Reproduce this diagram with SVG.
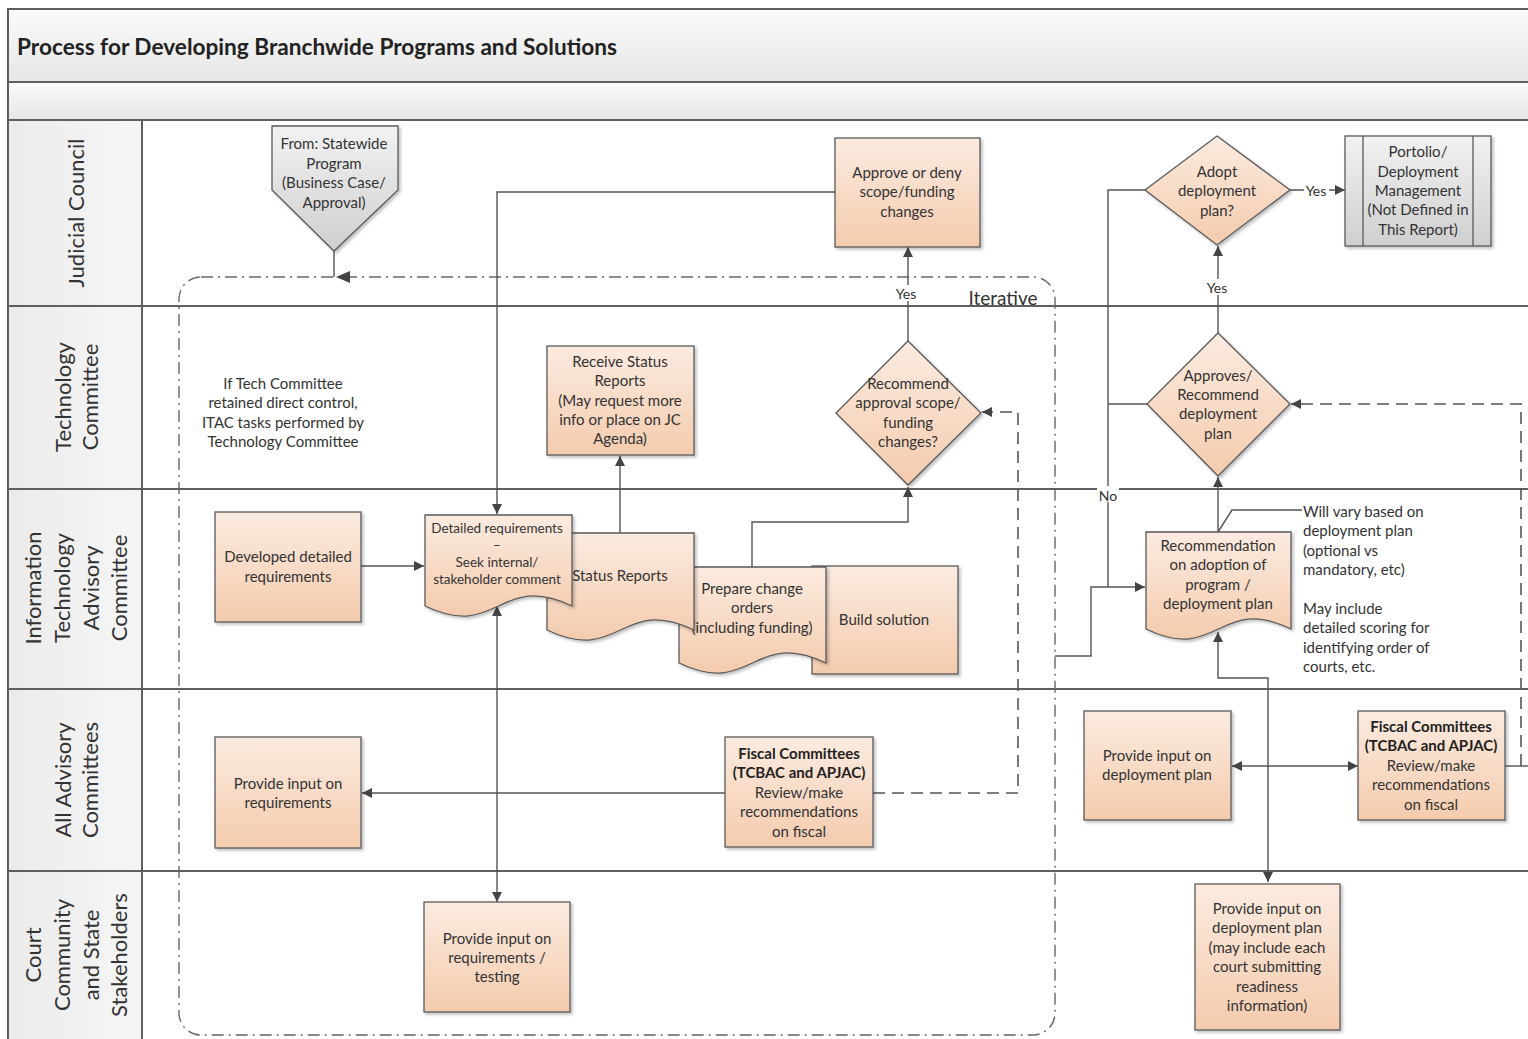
<svg xmlns="http://www.w3.org/2000/svg" width="1528" height="1039" viewBox="0 0 1528 1039">
<style>
.t{font-family:Lato,"Liberation Sans",sans-serif;font-size:15px;fill:#333;text-anchor:middle;dominant-baseline:central}
.s{font-size:13.5px}
.b{font-weight:bold;fill:#222}
.l{text-anchor:start}
.lane{font-family:Lato,"Liberation Sans",sans-serif;font-size:22px;fill:#333;text-anchor:middle;dominant-baseline:central}
.node{fill:url(#nf);stroke:#5a5a5a;stroke-width:1.3;filter:url(#sh)}
.gray{fill:url(#gf);stroke:#5a5a5a;stroke-width:1.3;filter:url(#sh)}
.c{fill:none;stroke:#555;stroke-width:1.4}
.d{fill:none;stroke:#555;stroke-width:1.6;stroke-dasharray:12 7}
.frame{fill:none;stroke:#5f5f5f;stroke-width:2}
.lbl{fill:#fff}
</style>
<defs>
<linearGradient id="nf" x1="0" y1="0" x2="0" y2="1"><stop offset="0" stop-color="#fbebe0"/><stop offset="1" stop-color="#f4cbad"/></linearGradient>
<linearGradient id="gf" x1="0" y1="0" x2="0" y2="1"><stop offset="0" stop-color="#f2f2f2"/><stop offset="1" stop-color="#cfcfcf"/></linearGradient>
<linearGradient id="hf" x1="0" y1="0" x2="0" y2="1"><stop offset="0" stop-color="#fbfbfb"/><stop offset="1" stop-color="#e6e6e6"/></linearGradient>
<linearGradient id="lf" x1="0" y1="0" x2="1" y2="0"><stop offset="0" stop-color="#ebebeb"/><stop offset="1" stop-color="#f6f6f6"/></linearGradient>
<filter id="sh" x="-10%" y="-10%" width="130%" height="130%"><feDropShadow dx="2" dy="2" stdDeviation="1.5" flood-color="#000" flood-opacity="0.25"/></filter>
<marker id="a" viewBox="0 0 10 10" refX="10" refY="5" markerWidth="12" markerHeight="10" markerUnits="userSpaceOnUse" orient="auto-start-reverse"><path d="M0,0 L10,5 L0,10 Z" fill="#444"/></marker>
</defs>

<!-- swimlane frame -->
<g id="frame">
<rect x="8" y="9" width="1530" height="73" fill="url(#hf)"/>
<rect x="8" y="82" width="1530" height="38" fill="url(#hf)"/>
<rect x="8" y="120" width="134" height="919" fill="url(#lf)"/>
<path class="frame" d="M1528,9 H8 V1039 M8,82 H1528 M8,120 H1528 M8,306 H1528 M8,489 H1528 M8,689 H1528 M8,871 H1528 M142,120 V1039"/>
<text x="17" y="46" class="t b l" style="font-size:22px" textLength="600" lengthAdjust="spacingAndGlyphs">Process for Developing Branchwide Programs and Solutions</text>
<text class="lane" transform="translate(75,213) rotate(-90)">Judicial Council</text>
<text class="lane" transform="translate(62,397) rotate(-90)">Technology</text>
<text class="lane" transform="translate(89,397) rotate(-90)">Committee</text>
<text class="lane" transform="translate(32,588) rotate(-90)">Information</text>
<text class="lane" transform="translate(61,588) rotate(-90)">Technology</text>
<text class="lane" transform="translate(90,588) rotate(-90)">Advisory</text>
<text class="lane" transform="translate(118,588) rotate(-90)">Committee</text>
<text class="lane" transform="translate(62,780) rotate(-90)">All Advisory</text>
<text class="lane" transform="translate(89,780) rotate(-90)">Committees</text>
<text class="lane" transform="translate(32,955) rotate(-90)">Court</text>
<text class="lane" transform="translate(61,955) rotate(-90)">Community</text>
<text class="lane" transform="translate(90,955) rotate(-90)">and State</text>
<text class="lane" transform="translate(118,955) rotate(-90)">Stakeholders</text>
</g>

<!-- iterative container -->
<g id="iterative">
<rect x="179" y="277" width="876" height="758" rx="22" fill="none" stroke="#666" stroke-width="1.4" stroke-dasharray="12 5 2 5"/>
<text x="1003" y="297" class="t" style="font-size:19px">Iterative</text>
</g>

<!-- connectors -->
<g id="connectors">
<path class="c" d="M334,251 V277"/>
<path d="M336,277 L350,271 L350,283 Z" fill="#444"/>
<path class="c" d="M835,192 H497 V514" marker-end="url(#a)"/>
<path class="c" d="M361,566 H424" marker-end="url(#a)"/>
<path class="c" d="M497,606 V902" marker-start="url(#a)" marker-end="url(#a)"/>
<path class="c" d="M620,533 V456" marker-end="url(#a)"/>
<path class="c" d="M752,567 V522 H908 V487" marker-end="url(#a)"/>
<path class="c" d="M908,341 V247" marker-end="url(#a)"/>
<path class="c" d="M725,793 H362" marker-end="url(#a)"/>
<path class="d" d="M873,793 H1018 V412 H982" marker-end="url(#a)"/>
<path class="c" d="M1055,656 H1091 V587 H1145" marker-end="url(#a)"/>
<path class="c" d="M1146,190 H1108 V587 M1147,404 H1108"/>
<path class="c" d="M1218,532 V477" marker-end="url(#a)"/>
<path class="c" d="M1218,333 V246" marker-end="url(#a)"/>
<path class="c" d="M1290,190 H1345" marker-end="url(#a)"/>
<path class="c" d="M1218,632 V678 H1268 V882" marker-start="url(#a)" marker-end="url(#a)"/>
<path class="c" d="M1232,766 H1358" marker-start="url(#a)" marker-end="url(#a)"/>
<path class="c" d="M1505,766 H1528"/>
<path class="d" d="M1521,766 V404 H1291" marker-end="url(#a)"/>
<path class="c" d="M1218,532 L1232,510 H1302"/>
<rect class="lbl" x="893" y="285" width="27" height="16"/>
<text x="906" y="293" class="t" style="font-size:14px">Yes</text>
<rect class="lbl" x="1204" y="279" width="27" height="16"/>
<text x="1217" y="287" class="t" style="font-size:14px">Yes</text>
<rect class="lbl" x="1304" y="182" width="25" height="16"/>
<text x="1316" y="190" class="t" style="font-size:14px">Yes</text>
<rect class="lbl" x="1097" y="486" width="22" height="16"/>
<text x="1108" y="495" class="t" style="font-size:14px">No</text>
</g>

<!-- nodes -->
<g id="from-statewide">
<path class="gray" d="M272,126 H398 V190 L334,251 L272,190 Z"/>
<text class="t" x="334" y="143">From: Statewide</text>
<text class="t" x="334" y="163">Program</text>
<text class="t" x="334" y="182">(Business Case/</text>
<text class="t" x="334" y="202">Approval)</text>
</g>

<g id="approve-deny">
<rect class="node" x="835" y="138" width="145" height="109"/>
<text class="t" x="907" y="172">Approve or deny</text>
<text class="t" x="907" y="191">scope/funding</text>
<text class="t" x="907" y="211">changes</text>
</g>

<g id="adopt">
<path class="node" d="M1217,136 L1290,190 L1217,245 L1145,190 Z"/>
<text class="t" x="1217" y="171">Adopt</text>
<text class="t" x="1217" y="190">deployment</text>
<text class="t" x="1217" y="210">plan?</text>
</g>

<g id="portfolio">
<rect class="gray" x="1345" y="136" width="146" height="110"/>
<path d="M1363,136 V246 M1473,136 V246" stroke="#5a5a5a" stroke-width="1.3"/>
<text class="t" x="1418" y="151">Portolio/</text>
<text class="t" x="1418" y="171">Deployment</text>
<text class="t" x="1418" y="190">Management</text>
<text class="t" x="1418" y="209">(Not Defined in</text>
<text class="t" x="1418" y="229">This Report)</text>
</g>

<g id="tech-note">
<text class="t" x="283" y="383">If Tech Committee</text>
<text class="t" x="283" y="402">retained direct control,</text>
<text class="t" x="283" y="422">ITAC tasks performed by</text>
<text class="t" x="283" y="441">Technology Committee</text>
</g>

<g id="receive-status">
<rect class="node" x="547" y="346" width="147" height="109"/>
<text class="t" x="620" y="361">Receive Status</text>
<text class="t" x="620" y="380">Reports</text>
<text class="t" x="620" y="400">(May request more</text>
<text class="t" x="620" y="419">info or place on JC</text>
<text class="t" x="620" y="438">Agenda)</text>
</g>

<g id="recommend-approval">
<path class="node" d="M908,341 L981,413 L908,485 L836,413 Z"/>
<text class="t" x="908" y="383">Recommend</text>
<text class="t" x="908" y="402">approval scope/</text>
<text class="t" x="908" y="422">funding</text>
<text class="t" x="908" y="441">changes?</text>
</g>

<g id="approves-recommend">
<path class="node" d="M1218,333 L1290,404 L1218,476 L1147,404 Z"/>
<text class="t" x="1218" y="375">Approves/</text>
<text class="t" x="1218" y="394">Recommend</text>
<text class="t" x="1218" y="413">deployment</text>
<text class="t" x="1218" y="433">plan</text>
</g>

<g id="developed">
<rect class="node" x="215" y="512" width="146" height="110"/>
<text class="t" x="288" y="556">Developed detailed</text>
<text class="t" x="288" y="576">requirements</text>
</g>

<g id="build-solution">
<rect class="node" x="812" y="566" width="146" height="108"/>
<text class="t" x="884" y="619">Build solution</text>
</g>

<g id="prepare-change">
<path class="node" d="M679,567 H826 V663 C752.5,628 752.5,698 679,663 Z"/>
<text class="t" x="752" y="588">Prepare change</text>
<text class="t" x="752" y="607">orders</text>
<text class="t" x="752" y="627">(including funding)</text>
</g>

<g id="status-reports">
<path class="node" d="M547,533 H694 V630 C620.5,595 620.5,665 547,630 Z"/>
<text class="t" x="620" y="575">Status Reports</text>
</g>

<g id="detailed-req">
<path class="node" d="M425,515 H572 V606 C498.5,571 498.5,641 425,606 Z"/>
<text class="t s" x="497" y="528">Detailed requirements</text>
<text class="t s" x="497" y="545">–</text>
<text class="t s" x="497" y="562">Seek internal/</text>
<text class="t s" x="497" y="579">stakeholder comment</text>
</g>

<g id="recommendation">
<path class="node" d="M1146,532 H1291 V629 C1218.5,594 1218.5,664 1146,629 Z"/>
<text class="t" x="1218" y="545">Recommendation</text>
<text class="t" x="1218" y="564">on adoption of</text>
<text class="t" x="1218" y="584">program /</text>
<text class="t" x="1218" y="603">deployment plan</text>
</g>

<g id="callout-note">
<text class="t l" x="1303" y="511">Will vary based on</text>
<text class="t l" x="1303" y="530">deployment plan</text>
<text class="t l" x="1303" y="550">(optional vs</text>
<text class="t l" x="1303" y="569">mandatory, etc)</text>
<text class="t l" x="1303" y="608">May include</text>
<text class="t l" x="1303" y="627">detailed scoring for</text>
<text class="t l" x="1303" y="647">identifying order of</text>
<text class="t l" x="1303" y="666">courts, etc.</text>
</g>

<g id="input-requirements">
<rect class="node" x="215" y="737" width="146" height="111"/>
<text class="t" x="288" y="783">Provide input on</text>
<text class="t" x="288" y="802">requirements</text>
</g>

<g id="fiscal-left">
<rect class="node" x="725" y="737" width="148" height="110"/>
<text class="t b" x="799" y="753">Fiscal Committees</text>
<text class="t b" x="799" y="772">(TCBAC and APJAC)</text>
<text class="t" x="799" y="792">Review/make</text>
<text class="t" x="799" y="811">recommendations</text>
<text class="t" x="799" y="831">on fiscal</text>
</g>

<g id="input-deployment">
<rect class="node" x="1084" y="711" width="147" height="109"/>
<text class="t" x="1157" y="755">Provide input on</text>
<text class="t" x="1157" y="774">deployment plan</text>
</g>

<g id="fiscal-right">
<rect class="node" x="1358" y="711" width="147" height="109"/>
<text class="t b" x="1431" y="726">Fiscal Committees</text>
<text class="t b" x="1431" y="745">(TCBAC and APJAC)</text>
<text class="t" x="1431" y="765">Review/make</text>
<text class="t" x="1431" y="784">recommendations</text>
<text class="t" x="1431" y="804">on fiscal</text>
</g>

<g id="input-testing">
<rect class="node" x="424" y="902" width="146" height="110"/>
<text class="t" x="497" y="938">Provide input on</text>
<text class="t" x="497" y="957">requirements /</text>
<text class="t" x="497" y="976">testing</text>
</g>

<g id="input-readiness">
<rect class="node" x="1195" y="884" width="145" height="146"/>
<text class="t" x="1267" y="908">Provide input on</text>
<text class="t" x="1267" y="927">deployment plan</text>
<text class="t" x="1267" y="947">(may include each</text>
<text class="t" x="1267" y="966">court submitting</text>
<text class="t" x="1267" y="986">readiness</text>
<text class="t" x="1267" y="1005">information)</text>
</g>
</svg>
